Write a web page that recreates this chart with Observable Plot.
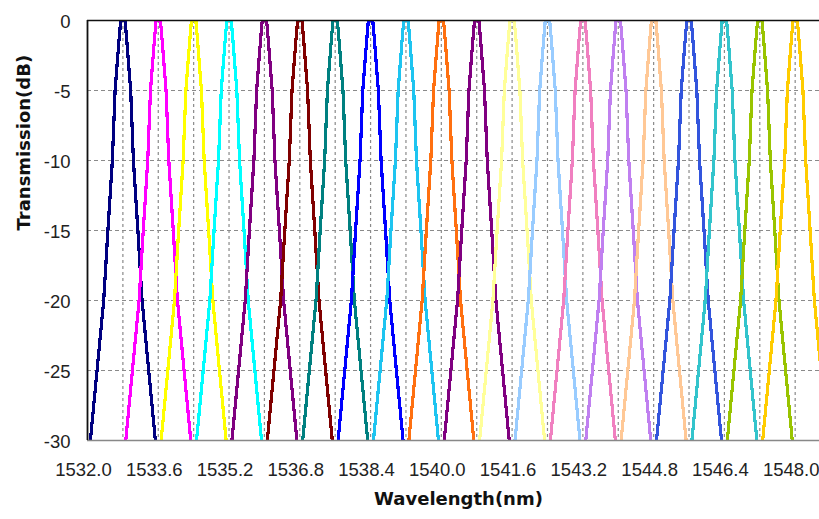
<!DOCTYPE html>
<html>
<head>
<meta charset="utf-8">
<script src="https://cdn.jsdelivr.net/npm/d3@7"></script>
<script src="https://cdn.jsdelivr.net/npm/@observablehq/plot@0.6"></script>
<style>
  html, body { margin: 0; padding: 0; background: #fff; }
  #chart svg { display: block; }
</style>
</head>
<body>
<div id="chart"></div>
<script>
// Channel centre wavelengths (nm)
const centers = [1532.8, 1533.6, 1534.4, 1535.2, 1536.0, 1536.8, 1537.6, 1538.4, 1539.2, 1540.0,
                 1540.8, 1541.6, 1542.4, 1543.2, 1544.0, 1544.8, 1545.6, 1546.4, 1547.2, 1548.0];
// Channel colours
const colors = ["#000080", "#ff00ff", "#ffff00", "#00ffff", "#800080", "#800000", "#008080", "#0000ff",
                "#1ec4f0", "#ff7010", "#800080", "#ffff99", "#99ccff", "#f080c0", "#c080f0", "#ffc896",
                "#3355dd", "#33c4cc", "#99c400", "#ffcc00"];
// Filter transmission profile: offset from centre (nm) and transmission (dB)
const profileOffset = [-0.77, -0.735, -0.584, -0.434, -0.339, -0.238, -0.176, -0.09, -0.05,
                       0.05, 0.09, 0.176, 0.238, 0.339, 0.434, 0.584, 0.735, 0.77];
const profileDb = [-31, -30, -25, -20, -15, -10, -5, -1.5, 0,
                   0, -1.5, -5, -10, -15, -20, -25, -30, -31];
// Axis ticks and labels
const xTicks = [1532.0, 1533.6, 1535.2, 1536.8, 1538.4, 1540.0, 1541.6, 1543.2, 1544.8, 1546.4, 1548.0];
const yTicks = [0, -5, -10, -15, -20, -25, -30];
const yGrid = [-5, -10, -15, -20, -25];
const xLabel = "Wavelength(nm)";
const yLabel = "Transmission(dB)";

const data = [];
centers.forEach((c, i) => {
  profileOffset.forEach((o, j) => {
    data.push({ch: i, wl: c + o, db: profileDb[j], color: colors[i]});
  });
});

const tickFont = "'Liberation Sans', Arial, sans-serif";
const labelFont = "'DejaVu Sans', Verdana, sans-serif";

const chart = Plot.plot({
  width: 819,
  height: 519,
  marginLeft: 87,
  marginRight: 0,
  marginTop: 20,
  marginBottom: 79,
  style: {background: "#fff", fontFamily: tickFont, fontSize: "18.5px", color: "#222"},
  x: {domain: [1532, 1548.55], label: null},
  y: {domain: [-30, 0], label: null},
  color: {type: "identity"},
  marks: [
    Plot.ruleX(centers, {stroke: "#8a8a8a", strokeWidth: 1.2, strokeDasharray: "3,3"}),
    Plot.ruleY(yGrid, {stroke: "#8a8a8a", strokeWidth: 1.2, strokeDasharray: "4,3"}),
    Plot.line(data, {x: "wl", y: "db", z: "ch", stroke: "color", strokeWidth: 3.2, clip: true, curve: "linear", shapeRendering: "crispEdges"}),
    Plot.ruleY([-30], {stroke: "#888", strokeWidth: 1.5}),
    Plot.ruleY([0], {stroke: "#111", strokeWidth: 1.5}),
    Plot.ruleX([1532], {stroke: "#111", strokeWidth: 1.8}),
    Plot.axisX({ticks: xTicks, tickFormat: d => d.toFixed(1), tickSize: 0, tickPadding: 22, dx: -4, label: null, fontSize: 18.5}),
    Plot.axisY({ticks: yTicks, tickFormat: d => String(d), tickSize: 0, tickPadding: 17, dy: 2, label: null, fontSize: 18.5}),
    Plot.text([xLabel], {frameAnchor: "bottom", dy: 64, dx: 5, text: d => d, fontFamily: labelFont, fontWeight: "bold", fontSize: 18, fill: "#111"}),
    Plot.text([yLabel], {frameAnchor: "left", dx: -63, rotate: -90, text: d => d, fontFamily: labelFont, fontWeight: "bold", fontSize: 18, fill: "#111"})
  ]
});
document.getElementById("chart").appendChild(chart);
</script>
</body>
</html>
